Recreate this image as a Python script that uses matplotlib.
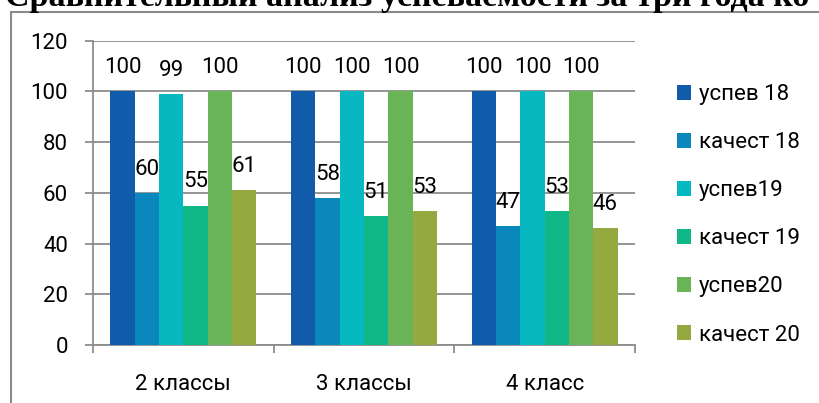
import numpy as np
import matplotlib
matplotlib.use("Agg")
import matplotlib.pyplot as plt
from matplotlib.patches import Rectangle

plt.rcParams['font.family'] = ['Roboto', 'DejaVu Sans']

# data
categories = ['2 классы', '3 классы', '4 класс']
series_names = ['успев 18', 'качест 18', 'успев19', 'качест 19', 'успев20', 'качест 20']
uspev18 = [100, 100, 100]
kachest18 = [60, 58, 47]
uspev19 = [99, 100, 100]
kachest19 = [55, 51, 53]
uspev20 = [100, 100, 100]
kachest20 = [61, 53, 46]
colors = ['#105CAB', '#0A88BE', '#08B8C0', '#10B888', '#6AB458', '#94AA40']
title = 'Сравнительный анализ успеваемости за три года ко'

series = [uspev18, kachest18, uspev19, kachest19, uspev20, kachest20]

W, H = 820, 403
fig = plt.figure(figsize=(W / 100, H / 100), dpi=100)

# outer frame of the chart object (runs off the right and bottom edge)
frame = Rectangle((11 / W, -0.1), 1.2, (H - 12) / H + 0.1, transform=fig.transFigure,
                  fill=False, edgecolor='#8a8a8a', linewidth=1.5)
fig.patches.append(frame)

# title, its top is cut off
fig.text(5 / W, 1 - 6 / H, title, fontfamily='Liberation Serif', fontweight='bold',
         fontsize=24.5, va='baseline', ha='left')

ax = fig.add_axes([93 / W, 1 - 345 / H, (635 - 93) / W, (345 - 40.7) / H])

x = np.arange(len(categories))
bw = 0.1345
for i, (vals, name, col) in enumerate(zip(series, series_names, colors)):
    pos = x + (i - 2.5) * bw
    ax.bar(pos, vals, width=bw, color=col, label=name, zorder=3)
    for p, v in zip(pos, vals):
        ax.annotate(str(v), (p, v), xytext=(0, 13), textcoords='offset points',
                    ha='center', va='baseline', fontsize=16, zorder=4)

ax.set_xlim(-0.5, len(categories) - 0.5)
ax.set_ylim(0, 120)
ax.set_yticks(range(0, 121, 20))
ax.yaxis.grid(True, color='#8c8c8c', linewidth=1.3, zorder=0)
ax.set_axisbelow(True)

for s in ['top', 'right']:
    ax.spines[s].set_visible(False)
for s in ['left', 'bottom']:
    ax.spines[s].set_color('#8c8c8c')
    ax.spines[s].set_linewidth(1.3)

ax.tick_params(axis='y', length=6, width=1.3, color='#8c8c8c', pad=12, labelsize=16)
ax.set_xticks(x)
ax.set_xticklabels(categories)
ax.tick_params(axis='x', which='major', length=0, pad=21, labelsize=16)
ax.set_xticks(np.arange(-0.5, len(categories), 1.0), minor=True)
ax.tick_params(axis='x', which='minor', length=6, width=1.3, color='#8c8c8c')

ax.legend(loc='upper left', bbox_to_anchor=(677 / W, 1 - 84 / H), bbox_transform=fig.transFigure,
          frameon=False, fontsize=16, handlelength=0.65, handleheight=0.65,
          handletextpad=0.35, labelspacing=1.22, borderaxespad=0, borderpad=0)

fig.savefig('out.png', dpi=100)
